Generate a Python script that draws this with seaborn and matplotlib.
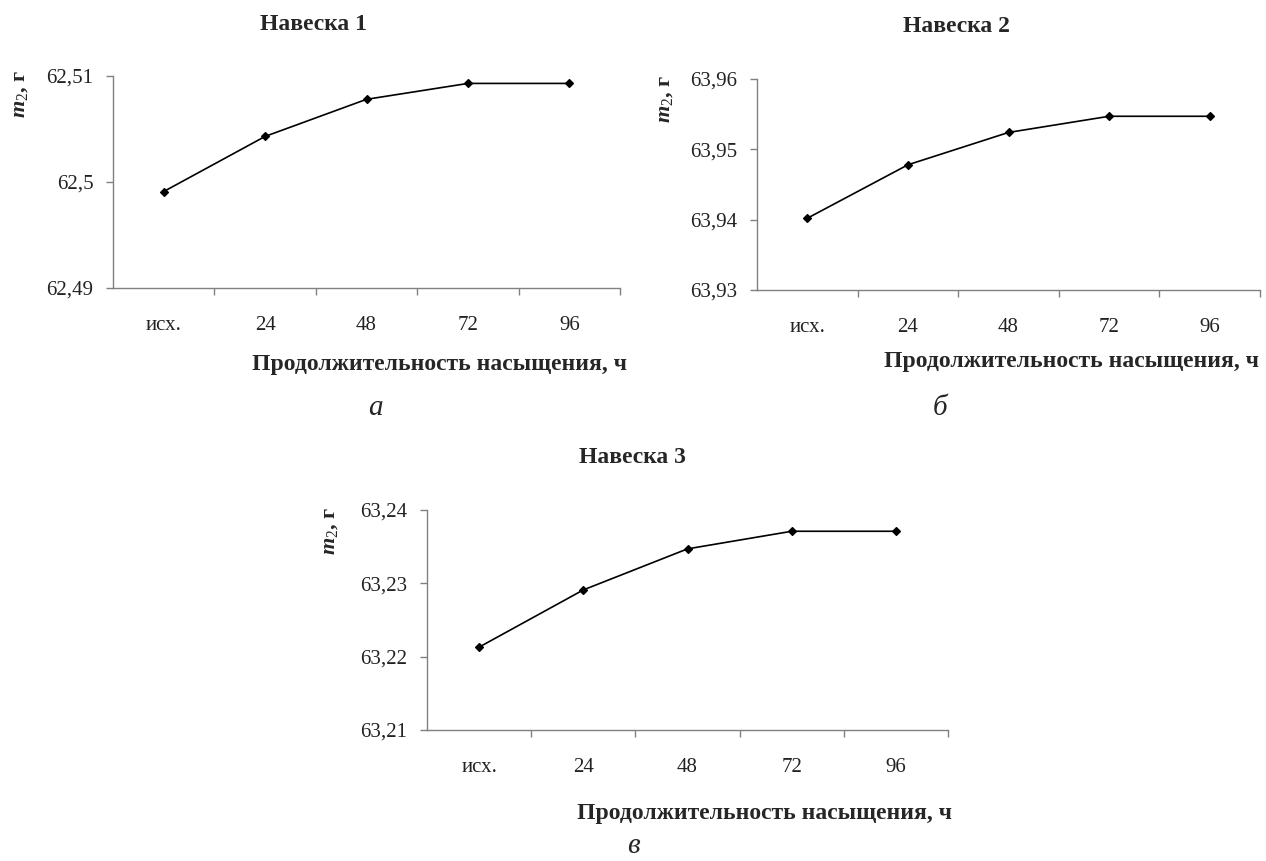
import seaborn as sns
import matplotlib.pyplot as plt

# время насыщения и массы навесок
hours = ['исх.', '24', '48', '72', '96']
m_1 = [62.4991, 62.5043, 62.5078, 62.5093, 62.5093]
m_2 = [63.9402, 63.9478, 63.9524, 63.9547, 63.9547]
m_3 = [63.2213, 63.2291, 63.2347, 63.2371, 63.2371]

yticks_1 = [62.49, 62.50, 62.51]
yticks_2 = [63.93, 63.94, 63.95, 63.96]
yticks_3 = [63.21, 63.22, 63.23, 63.24]
ylabels_1 = ['62,49', '62,5', '62,51']
ylabels_2 = ['63,93', '63,94', '63,95', '63,96']
ylabels_3 = ['63,21', '63,22', '63,23', '63,24']

titles = ['Навеска 1', 'Навеска 2', 'Навеска 3']
letters = ['а', 'б', 'в']
xlabel = 'Продолжительность насыщения, ч'
ylabel = r'$m_{\mathrm{2}}$, г'

sns.set_theme(style='white')
plt.rcParams['font.family'] = ['Liberation Serif', 'DejaVu Serif']
plt.rcParams['mathtext.fontset'] = 'custom'
plt.rcParams['mathtext.it'] = 'Liberation Serif:italic:bold'
plt.rcParams['mathtext.rm'] = 'Liberation Serif'

W, H = 1266, 861
fig = plt.figure(figsize=(W / 100, H / 100), dpi=100)


def box(l, t, r, b):
    return [l / W, 1 - b / H, (r - l) / W, (b - t) / H]


def fx(x):
    return x / W


def fy(y):
    return 1 - y / H


# (значения, тики, подписи, оси, заголовок, подпись x, подпись y, буква)
panels = [
    (m_1, yticks_1, ylabels_1, (113, 76, 620, 288), (313, 24), (440, 364), (20, 94), (375, 408)),
    (m_2, yticks_2, ylabels_2, (757, 79, 1260, 290), (956, 27), (1072, 362), (665, 99), (940, 408)),
    (m_3, yticks_3, ylabels_3, (427, 510, 948, 730), (632, 458), (764, 813), (330, 531), (633, 846)),
]

grey = '#808080'
for i, (vals, yt, yl, ax_box, t_pos, xl_pos, yl_pos, l_pos) in enumerate(panels):
    ax = fig.add_axes(box(*ax_box))
    sns.pointplot(x=hours, y=vals, ax=ax, color='black', marker='D',
                  markersize=4, linewidth=1.2, errorbar=None)
    ax.set_xlim(-0.5, 4.5)
    ax.set_ylim(yt[0], yt[-1])
    ax.set_yticks(yt, yl)
    ax.set_xticks(range(len(hours)), hours)
    ax.set_xticks([0.5, 1.5, 2.5, 3.5, 4.5], minor=True)
    ax.set_xlabel('')
    ax.set_ylabel('')
    for s in ['top', 'right']:
        ax.spines[s].set_visible(False)
    for s in ['left', 'bottom']:
        ax.spines[s].set_color(grey)
        ax.spines[s].set_linewidth(1.0)
    ax.tick_params(axis='x', which='major', length=0, pad=20, labelsize=15, labelcolor='#222222')
    ax.tick_params(axis='x', which='minor', bottom=True, length=5, width=1, color=grey, direction='out')
    ax.tick_params(axis='y', left=True, length=5, width=1, color=grey, direction='out',
                   pad=9, labelsize=15, labelcolor='#222222')

    fig.text(fx(t_pos[0]), fy(t_pos[1]), titles[i], ha='center', va='center',
             fontsize=17, fontweight='bold')
    fig.text(fx(xl_pos[0]), fy(xl_pos[1]), xlabel, ha='center', va='center',
             fontsize=17, fontweight='bold')
    fig.text(fx(yl_pos[0]), fy(yl_pos[1]), ylabel, ha='center', va='center',
             rotation=90, fontsize=16, fontweight='bold')
    fig.text(fx(l_pos[0]), fy(l_pos[1]), letters[i], ha='center', va='center',
             fontsize=21, fontstyle='italic')

fig.savefig('out.png', dpi=100)
